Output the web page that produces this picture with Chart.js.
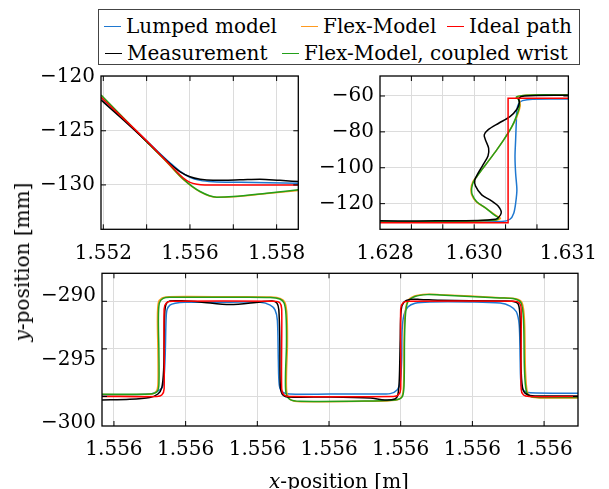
<!DOCTYPE html>
<html>
<head>
<meta charset="utf-8">
<script src="https://cdn.jsdelivr.net/npm/chart.js@4.4.1/dist/chart.umd.min.js"></script>
<style>
  html, body { margin: 0; padding: 0; background: #fff; }
  #figure { position: relative; width: 609px; height: 489px; overflow: hidden; font-family: "DejaVu Serif", serif; color: #000; }
  #figure canvas { position: absolute; left: 0; top: 0; }
  .legend { position: absolute; left: 98px; top: 9px; width: 482px; height: 56px; border: 1px solid #444; box-sizing: border-box; background: #fff; }
  .item { position: absolute; font-size: 20px; line-height: 20px; white-space: nowrap; }
  .item i { display: inline-block; width: 17px; height: 0; border-top: 1.5px solid; vertical-align: middle; margin-right: 5px; position: relative; top: -1px; }
  .title { position: absolute; font-size: 20px; line-height: 20px; white-space: nowrap; transform: translate(-50%, -50%); }
  .title.y { transform: translate(-50%, -50%) rotate(-90deg); }
</style>
</head>
<body>
<div id="figure">
  <canvas id="topLeft" width="609" height="489"></canvas>
  <canvas id="topRight" width="609" height="489"></canvas>
  <canvas id="bottom" width="609" height="489"></canvas>
  <div class="legend" id="legend"></div>
  <div class="title y" style="left:22px; top:262px;"><i>y</i>-position [mm]</div>
  <div class="title" style="left:339px; top:481px;"><i>x</i>-position [m]</div>
</div>
<script>
// ==================================================
// DATA (x in mm, y in mm)
// ==================================================
const seriesNames = ["Lumped model", "Flex-Model", "Ideal path", "Measurement", "Flex-Model, coupled wrist"];
const seriesColors = ["#1f78d0", "#ff9a1f", "#ff0000", "#000000", "#22a01a"];

// top left panel
const tlLumpedX = [1552.42, 1554.00, 1554.81, 1555.16, 1555.50, 1555.85, 1556.30, 1557.23, 1559.25];
const tlLumpedY = [-121.92, -125.93, -127.96, -128.75, -129.30, -129.58, -129.71, -129.76, -129.85];
const tlFlexX = [1552.42, 1554.00, 1554.69, 1555.27, 1555.85, 1556.43, 1557.00, 1558.16, 1559.25];
const tlFlexY = [-121.72, -126.02, -127.87, -129.50, -130.64, -131.15, -131.10, -130.80, -130.52];
const tlIdealX = [1552.42, 1554.00, 1554.91, 1555.26, 1555.50, 1555.74, 1556.02, 1559.25];
const tlIdealY = [-121.90, -125.93, -128.42, -129.34, -129.76, -129.94, -130.00, -130.00];
const tlMeasX = [1552.42, 1553.08, 1554.00, 1554.81, 1555.16, 1555.50, 1555.85, 1556.30, 1557.23, 1557.92, 1558.61, 1559.25];
const tlMeasY = [-122.15, -123.72, -125.98, -128.05, -128.79, -129.25, -129.48, -129.58, -129.53, -129.47, -129.58, -129.69];
const tlCoupledX = [1552.42, 1554.00, 1554.69, 1555.27, 1555.85, 1556.43, 1557.00, 1558.16, 1559.25];
const tlCoupledY = [-121.69, -126.00, -127.84, -129.47, -130.61, -131.13, -131.07, -130.76, -130.45];

// top right panel
const trLumpedX = [1628.20, 1630.14, 1630.27, 1630.33, 1630.36, 1630.38, 1630.36, 1630.35, 1630.36, 1630.37, 1630.38, 1630.41, 1630.47, 1630.63, 1631.20];
const trLumpedY = [-130.0, -130.0, -128.7, -125.3, -119.8, -112.4, -103.1, -93.8, -84.5, -75.2, -67.8, -64.1, -62.6, -61.8, -61.7];
const trFlexX = [1628.20, 1629.11, 1630.04, 1630.12, 1630.04, 1629.89, 1629.73, 1629.66, 1629.65, 1629.68, 1629.74, 1629.82, 1629.92, 1630.04, 1630.17, 1630.30, 1630.38, 1630.43, 1630.42, 1630.38, 1630.45, 1630.63, 1631.20];
const trFlexY = [-130.4, -130.0, -129.2, -128.2, -126.4, -122.6, -118.9, -115.1, -111.4, -107.7, -105.0, -101.2, -96.6, -91.0, -84.5, -77.1, -71.5, -66.0, -62.2, -60.7, -59.8, -59.4, -59.4];
const trIdealX = [1628.20, 1630.24, 1630.24, 1631.20];
const trIdealY = [-130.6, -130.6, -61.3, -61.3];
const trMeasX = [1628.20, 1629.11, 1630.04, 1630.13, 1630.09, 1629.97, 1629.82, 1629.72, 1629.71, 1629.76, 1629.84, 1629.92, 1629.93, 1629.88, 1629.86, 1629.92, 1630.09, 1630.27, 1630.38, 1630.42, 1630.41, 1630.50, 1631.20];
const trMeasY = [-129.6, -129.6, -128.7, -125.3, -121.7, -118.3, -115.1, -110.1, -106.8, -103.1, -98.4, -93.4, -89.1, -84.5, -81.7, -78.9, -75.2, -71.5, -67.4, -63.7, -61.3, -60.0, -59.6];
const trCoupledX = [1628.20, 1629.11, 1630.04, 1630.09, 1630.02, 1629.89, 1629.74, 1629.67, 1629.66, 1629.69, 1629.74, 1629.82, 1629.92, 1630.04, 1630.17, 1630.30, 1630.37, 1630.42, 1630.41, 1630.37, 1630.45, 1630.63, 1631.20];
const trCoupledY = [-130.3, -129.9, -129.1, -128.1, -126.3, -122.6, -118.9, -115.1, -111.4, -107.7, -105.0, -101.2, -96.6, -91.0, -84.5, -77.1, -71.5, -66.0, -62.2, -60.7, -59.8, -59.4, -59.4];

// bottom panel
const btLumpedX = [1555.525, 1555.625, 1555.646, 1555.653, 1555.657, 1555.659, 1555.661, 1555.667, 1555.678, 1555.699, 1555.793, 1555.856, 1555.877, 1555.887, 1555.892, 1555.894, 1555.896, 1555.902, 1555.918, 1556.002, 1556.086, 1556.128, 1556.143, 1556.149, 1556.152, 1556.153, 1556.157, 1556.165, 1556.180, 1556.211, 1556.295, 1556.358, 1556.379, 1556.392, 1556.398, 1556.400, 1556.402, 1556.408, 1556.421, 1556.521];
const btLumpedY = [-299.84, -299.74, -299.3, -298.8, -296.0, -292.0, -290.9, -290.4, -290.2, -290.1, -290.1, -290.1, -290.4, -290.9, -292.0, -296.2, -298.8, -299.5, -299.74, -299.74, -299.74, -299.7, -299.3, -298.5, -296.2, -293.0, -291.4, -290.6, -290.2, -290.07, -290.07, -290.18, -290.5, -291.1, -292.5, -296.2, -298.8, -299.4, -299.6, -299.66];
const btFlexX = [1555.525, 1555.625, 1555.638, 1555.642, 1555.642, 1555.641, 1555.643, 1555.651, 1555.665, 1555.793, 1555.879, 1555.899, 1555.908, 1555.912, 1555.913, 1555.911, 1555.912, 1555.920, 1555.941, 1556.086, 1556.138, 1556.152, 1556.156, 1556.157, 1556.159, 1556.164, 1556.179, 1556.205, 1556.232, 1556.358, 1556.391, 1556.404, 1556.409, 1556.411, 1556.415, 1556.423, 1556.444, 1556.521];
const btFlexY = [-299.8, -299.77, -299.5, -298.8, -295.1, -292.0, -290.15, -289.65, -289.52, -289.53, -289.56, -289.72, -290.15, -291.4, -294.6, -297.7, -299.65, -300.35, -300.55, -300.5, -300.4, -300.05, -298.8, -294.1, -291.4, -290.02, -289.45, -289.26, -289.3, -289.62, -289.74, -290.15, -292.0, -297.2, -299.55, -300.03, -300.15, -300.15];
const btIdealX = [1555.525, 1555.640, 1555.650, 1555.655, 1555.655, 1555.660, 1555.672, 1555.885, 1555.897, 1555.901, 1555.901, 1555.906, 1555.918, 1556.135, 1556.145, 1556.150, 1556.150, 1556.155, 1556.167, 1556.387, 1556.398, 1556.402, 1556.402, 1556.407, 1556.419, 1556.521];
const btIdealY = [-300.0, -300.0, -299.85, -299.2, -290.8, -290.15, -290.0, -290.0, -290.15, -290.8, -299.2, -299.85, -300.0, -300.0, -299.85, -299.2, -290.8, -290.15, -290.0, -290.0, -290.15, -290.8, -299.2, -299.85, -300.0, -300.0];
const btMeasX = [1555.525, 1555.583, 1555.625, 1555.642, 1555.650, 1555.654, 1555.655, 1555.656, 1555.659, 1555.667, 1555.699, 1555.730, 1555.793, 1555.856, 1555.881, 1555.891, 1555.895, 1555.897, 1555.898, 1555.902, 1555.914, 1556.002, 1556.086, 1556.117, 1556.138, 1556.144, 1556.147, 1556.149, 1556.151, 1556.157, 1556.170, 1556.190, 1556.232, 1556.358, 1556.383, 1556.396, 1556.400, 1556.402, 1556.406, 1556.417, 1556.442, 1556.521];
const btMeasY = [-300.37, -300.3, -300.1, -299.74, -299.1, -297.2, -294.1, -291.4, -290.3, -289.97, -289.97, -290.07, -290.34, -290.07, -289.97, -290.18, -290.9, -294.1, -298.8, -299.74, -300.05, -300.05, -300.16, -300.37, -300.26, -299.84, -298.3, -294.1, -290.9, -290.07, -289.8, -289.8, -289.9, -289.97, -290.0, -290.3, -292.0, -297.2, -299.3, -299.84, -299.95, -299.95];
const btCoupledX = [1555.525, 1555.625, 1555.640, 1555.644, 1555.644, 1555.643, 1555.645, 1555.653, 1555.667, 1555.793, 1555.877, 1555.897, 1555.906, 1555.910, 1555.911, 1555.909, 1555.910, 1555.918, 1555.939, 1556.086, 1556.138, 1556.153, 1556.157, 1556.158, 1556.160, 1556.165, 1556.180, 1556.205, 1556.232, 1556.358, 1556.389, 1556.402, 1556.407, 1556.409, 1556.413, 1556.421, 1556.442, 1556.521];
const btCoupledY = [-299.77, -299.74, -299.5, -298.8, -295.1, -292.0, -290.2, -289.7, -289.58, -289.58, -289.6, -289.76, -290.18, -291.4, -294.6, -297.7, -299.6, -300.3, -300.5, -300.47, -300.37, -300.05, -298.8, -294.1, -291.4, -290.07, -289.5, -289.3, -289.34, -289.65, -289.76, -290.18, -292.0, -297.2, -299.5, -299.99, -300.1, -300.1];

// axes: grid positions, label positions, label texts
const tlXGrid = [1552.5, 1554.0, 1555.5, 1557.0, 1558.5];
const tlXLabelAt = [1552.5, 1555.5, 1558.5];
const tlXLabels = ["1.552", "1.556", "1.558"];
const tlYGrid = [-130, -125, -120];
const tlYLabels = ["−130", "−125", "−120"];

const trXGrid = [1628.7, 1629.2, 1629.7, 1630.2, 1630.7];
const trXLabelAt = [1628.28, 1629.7, 1631.2];
const trXLabels = ["1.628", "1.630", "1.631"];
const trYGrid = [-120, -100, -80, -60];
const trYLabels = ["−120", "−100", "−80", "−60"];

const btXGrid = [1555.55, 1555.70, 1555.85, 1556.00, 1556.15, 1556.30, 1556.45];
const btXLabels = ["1.556", "1.556", "1.556", "1.556", "1.556", "1.556", "1.556"];
const btYGrid = [-300, -295, -290];
const btYLabelAt = [-302.75, -296.13, -289.45];
const btYLabels = ["−300", "−295", "−290"];

// ==================================================
// HELPERS
// ==================================================
const FONT = "DejaVu Serif";
const GRID = "#dcdcdc";

function mergeTicks(grid, labelAt, labels) {
    const map = new Map();
    grid.forEach(v => map.set(v, { value: v, grid: true, label: "" }));
    labelAt.forEach((v, i) => {
        const t = map.get(v) || { value: v, grid: false, label: "" };
        t.label = labels[i];
        map.set(v, t);
    });
    return [...map.values()].sort((a, b) => a.value - b.value);
}

function axis(ticks, min, max, size, isX) {
    return {
        type: "linear",
        min: min,
        max: max,
        afterBuildTicks: s => { s.ticks = ticks.map(t => ({ value: t.value })); },
        afterFit: s => { if (isX) s.height = size; else s.width = size; },
        grid: {
            drawTicks: false,
            lineWidth: 1,
            color: c => (ticks[c.index] && ticks[c.index].grid) ? GRID : "rgba(0,0,0,0)"
        },
        border: { display: false },
        ticks: {
            autoSkip: false,
            maxRotation: 0,
            minRotation: 0,
            padding: isX ? 12 : 6,
            color: "#000",
            font: { family: FONT, size: 20 },
            callback: (v, i) => ticks[i] ? ticks[i].label : ""
        }
    };
}

function series(xs, ys, idx, tension, mono) {
    return {
        label: seriesNames[idx],
        data: xs.map((x, i) => ({ x: x, y: ys[i] })),
        borderColor: seriesColors[idx],
        borderWidth: 1.5,
        pointRadius: 0,
        fill: false,
        tension: tension,
        cubicInterpolationMode: mono ? "monotone" : "default"
    };
}

// frame box and inward tick marks on all four sides
function framePlugin(xGrid, yGrid) {
    return {
        id: "frame",
        afterDraw(chart) {
            const { ctx, chartArea: a, scales } = chart;
            const len = 5;
            ctx.save();
            ctx.strokeStyle = "#000";
            ctx.lineWidth = 1;
            ctx.beginPath();
            xGrid.forEach(v => {
                const px = scales.x.getPixelForValue(v);
                if (px < a.left + 1 || px > a.right - 1) return;
                ctx.moveTo(px, a.bottom); ctx.lineTo(px, a.bottom - len);
                ctx.moveTo(px, a.top); ctx.lineTo(px, a.top + len);
            });
            yGrid.forEach(v => {
                const py = scales.y.getPixelForValue(v);
                if (py < a.top + 1 || py > a.bottom - 1) return;
                ctx.moveTo(a.left, py); ctx.lineTo(a.left + len, py);
                ctx.moveTo(a.right, py); ctx.lineTo(a.right - len, py);
            });
            ctx.stroke();
            ctx.lineWidth = 1.3;
            ctx.strokeRect(a.left, a.top, a.right - a.left, a.bottom - a.top);
            ctx.restore();
        }
    };
}

function makePanel(id, p) {
    const xTicks = mergeTicks(p.xGrid, p.xLabelAt, p.xLabels);
    const yTicks = mergeTicks(p.yGrid, p.yLabelAt, p.yLabels);
    return new Chart(document.getElementById(id), {
        type: "line",
        data: { datasets: p.datasets },
        options: {
            responsive: false,
            animation: false,
            devicePixelRatio: 1,
            layout: { padding: p.padding },
            plugins: { legend: { display: false }, tooltip: { enabled: false } },
            scales: {
                x: axis(xTicks, p.xMin, p.xMax, 34, true),
                y: axis(yTicks, p.yMin, p.yMax, p.yWidth, false)
            }
        },
        plugins: [framePlugin(p.xGrid, p.yGrid)]
    });
}

// ==================================================
// PANELS (first dataset is drawn on top)
// ==================================================
makePanel("topLeft", {
    xMin: 1552.42, xMax: 1559.25, yMin: -134.1, yMax: -119.94,
    xGrid: tlXGrid, xLabelAt: tlXLabelAt, xLabels: tlXLabels,
    yGrid: tlYGrid, yLabelAt: tlYGrid, yLabels: tlYLabels,
    yWidth: 70,
    padding: { left: 31, right: 310.7, top: 76, bottom: 225.7 },
    datasets: [
        series(tlIdealX, tlIdealY, 2, 0, true),
        series(tlMeasX, tlMeasY, 3, 0, true),
        series(tlCoupledX, tlCoupledY, 4, 0, true),
        series(tlFlexX, tlFlexY, 1, 0, true),
        series(tlLumpedX, tlLumpedY, 0, 0, true)
    ]
});

makePanel("topRight", {
    xMin: 1628.2, xMax: 1631.2, yMin: -134.3, yMax: -48.86,
    xGrid: trXGrid, xLabelAt: trXLabelAt, xLabels: trXLabels,
    yGrid: trYGrid, yLabelAt: trYGrid, yLabels: trYLabels,
    yWidth: 80,
    padding: { left: 300, right: 32.3, top: 76, bottom: 225.7 },
    datasets: [
        series(trIdealX, trIdealY, 2, 0, false),
        series(trMeasX, trMeasY, 3, 0.3, false),
        series(trCoupledX, trCoupledY, 4, 0.3, false),
        series(trFlexX, trFlexY, 1, 0.3, false),
        series(trLumpedX, trLumpedY, 0, 0.3, false)
    ]
});

makePanel("bottom", {
    xMin: 1555.525, xMax: 1556.521, yMin: -303.1, yMax: -287.06,
    xGrid: btXGrid, xLabelAt: btXGrid, xLabels: btXLabels,
    yGrid: btYGrid, yLabelAt: btYLabelAt, yLabels: btYLabels,
    yWidth: 70,
    padding: { left: 32, right: 31, top: 273.3, bottom: 29 },
    datasets: [
        series(btIdealX, btIdealY, 2, 0.3, false),
        series(btMeasX, btMeasY, 3, 0.3, false),
        series(btCoupledX, btCoupledY, 4, 0.3, false),
        series(btFlexX, btFlexY, 1, 0.3, false),
        series(btLumpedX, btLumpedY, 0, 0.3, false)
    ]
});

// ==================================================
// LEGEND
// ==================================================
const legendRows = [[0, 1, 2], [3, 4]];
const legendLeft = [[5, 202, 348], [6, 183]];
const legendTop = [6, 33];
const legend = document.getElementById("legend");
legendRows.forEach((row, r) => {
    row.forEach((idx, k) => {
        const item = document.createElement("div");
        item.className = "item";
        item.style.left = legendLeft[r][k] + "px";
        item.style.top = legendTop[r] + "px";
        item.innerHTML = `<i style="border-color:${seriesColors[idx]}"></i>${seriesNames[idx]}`;
        legend.appendChild(item);
    });
});
</script>
</body>
</html>
